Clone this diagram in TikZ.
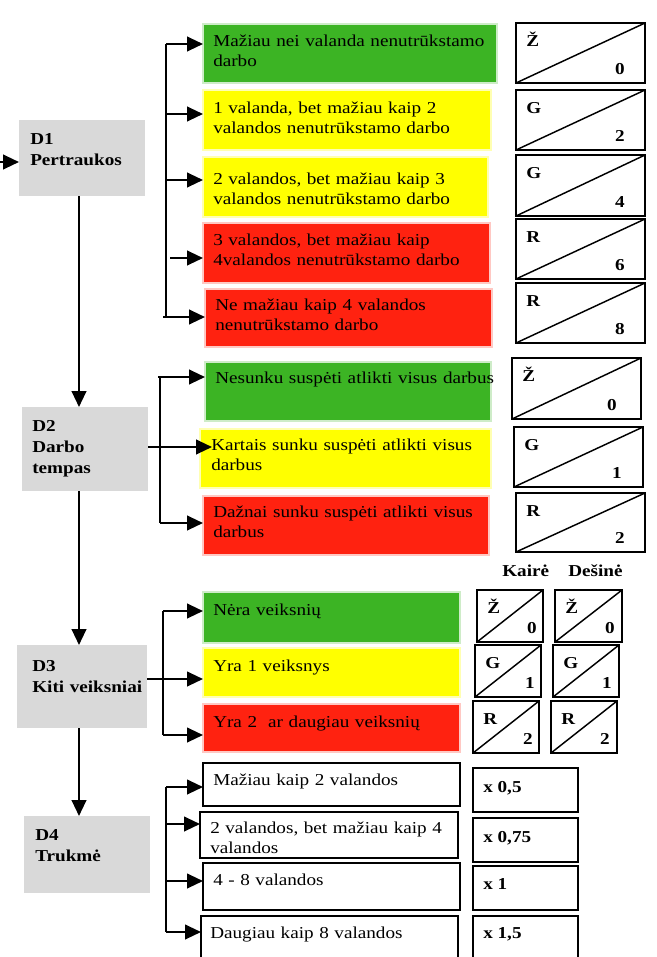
\documentclass[tikz,border=0pt]{standalone}
\usepackage{fontspec}
\setmainfont{Liberation Serif}[FakeStretch=1.15]
\usetikzlibrary{arrows.meta,calc}
\definecolor{dgray}{RGB}{217,217,217}
\definecolor{optgreen}{RGB}{60,180,36}
\definecolor{optyellow}{RGB}{255,255,0}
\definecolor{optred}{RGB}{255,34,16}
\tikzset{
  box/.style={anchor=north west, inner sep=0pt, outer sep=0pt},
  dbox/.style={box, fill=dgray},
  gbox/.style={box, fill=optgreen, draw=optgreen!25, line width=1pt},
  ybox/.style={box, fill=optyellow, draw=optyellow!30, line width=1pt},
  rbox/.style={box, fill=optred, draw=optred!25, line width=1pt},
  wbox/.style={box, draw=black, line width=1.5pt},
  cell/.style={box, draw=black, line width=1.5pt},
  txt/.style={anchor=base west, inner sep=0pt, text width=230pt, align=left, font=\fontsize{12.5}{15}\selectfont},
  dtxt/.style={txt, font=\fontsize{12.5}{16}\selectfont\bfseries},
  btxt/.style={anchor=base west, inner sep=0pt, font=\fontsize{12.5}{15}\selectfont\bfseries},
  arr/.style={-{Triangle[length=12pt,width=11pt]}, line width=1.6pt},
  bus/.style={line width=1.6pt}
}
\def\boxat[#1](#2)(#3,#4)(#5,#6){\node[#1, minimum width={(#5-#3)*0.75pt}, minimum height={(#6-#4)*0.75pt}] (#2) at (#3,#4) {};}
\def\scorecell(#1)(#2,#3)(#4,#5)#6#7#8{%
  \boxat[cell](#1)(#2,#3)(#4,#5)
  \draw[line width=1.1pt] (#1.south west) -- (#1.north east);
  \node[btxt] (#1-l) at ($(#1.north west)+(10,23.5)$) {#6};
  \node[btxt, anchor=base east] (#1-n) at ($(#1.south east)+(-#8,-9)$) {#7};}

\begin{document}
\begin{tikzpicture}[x=0.75pt, y=-0.75pt]
			%%%%% START %%%%%
			\useasboundingbox (0,0) rectangle (657,957);
			
			% D boxes
			\boxat[dbox](d1)(19,120)(145,196)
			\node[dtxt] (d1-t) at (30,144) {D1\\Pertraukos};
			\boxat[dbox](d2)(22,407)(148,491)
			\node[dtxt] (d2-t) at (32,431) {D2\\Darbo\\tempas};
			\boxat[dbox](d3)(17,645)(147,728)
			\node[dtxt] (d3-t) at (32,671) {D3\\Kiti veiksniai};
			\boxat[dbox](d4)(24,816)(150,893)
			\node[dtxt] (d4-t) at (35,840) {D4\\Trukmė};
			
			\coordinate (in) at (0,162);
			\draw[arr] (in) -- (in -| d1.west);
			\coordinate (spine) at (79,0);
			\draw[arr] (d1.south -| spine) -- (d2.north -| spine);
			\draw[arr] (d2.south -| spine) -- (d3.north -| spine);
			\draw[arr] (d3.south -| spine) -- (d4.north -| spine);
			
			% D1 Pertraukos
			\boxat[gbox](g1)(203,24)(497,83)
			\node[txt] (g1-t) at (213,46.7) {Mažiau nei valanda nenutrūkstamo\\darbo};
			\boxat[ybox](y1)(203,90)(491,150)
			\node[txt] (y1-t) at (213,113) {1 valanda, bet mažiau kaip 2\\valandos nenutrūkstamo darbo};
			\boxat[ybox](y2)(203,157)(488,217)
			\node[txt] (y2-t) at (213,184) {2 valandos, bet mažiau kaip 3\\valandos nenutrūkstamo darbo};
			\boxat[rbox](r1)(203,223)(490,283)
			\node[txt] (r1-t) at (213,245) {3 valandos, bet mažiau kaip\\4valandos nenutrūkstamo darbo};
			\boxat[rbox](r2)(205,289)(492,347)
			\node[txt] (r2-t) at (215,310) {Ne mažiau kaip 4 valandos\\nenutrūkstamo darbo};
			
			\scorecell(c1)(516,23)(645,83){Ž}{0}{20}
			\scorecell(c2)(516,90)(645,150){G}{2}{20}
			\scorecell(c3)(516,155)(645,216){G}{4}{20}
			\scorecell(c4)(516,219)(645,279){R}{6}{20}
			\scorecell(c5)(516,283)(645,343){R}{8}{20}
			
			\coordinate (b1a) at (166,44);
			\coordinate (b1b) at (166,114);
			\coordinate (b1c) at (166,180);
			\coordinate (b1d) at (170,258);
			\coordinate (b1e) at (163,317);
			\draw[bus] (b1a) -- (b1a |- b1e);
			\draw[arr] (b1a) -- (b1a -| g1.west);
			\draw[arr] (b1b) -- (b1b -| y1.west);
			\draw[arr] (b1c) -- (b1c -| y2.west);
			\draw[arr] (b1d) -- (b1d -| r1.west);
			\draw[arr] (b1e) -- (b1e -| r2.west);
			
			% D2 Darbo tempas
			\boxat[gbox](g2)(205,362)(491,421)
			\node[txt] (g2-t) at (215,383) {Nesunku suspėti atlikti visus darbus};
			\boxat[ybox](y3)(200,429)(491,488)
			\node[txt] (y3-t) at (211,450) {Kartais sunku suspėti atlikti visus\\darbus};
			\boxat[rbox](r3)(203,496)(489,555)
			\node[txt] (r3-t) at (213,517) {Dažnai sunku suspėti atlikti visus\\darbus};
			
			\scorecell(c6)(512,358)(641,419){Ž}{0}{24}
			\scorecell(c7)(514,427)(643,487){G}{1}{21}
			\scorecell(c8)(516,493)(645,552){R}{2}{20}
			
			\coordinate (b2a) at (158,377);
			\coordinate (b2b) at (148,447);
			\coordinate (b2c) at (160,523);
			\draw[bus] (b2c |- b2a) -- (b2c);
			\draw[arr] (b2a) -- (b2a -| g2.west);
			\draw[arr, shorten >=-9pt] (d2.east |- b2b) -- (b2b -| y3.west);
			\draw[arr] (b2c) -- (b2c -| r3.west);
			
			% D3 Kiti veiksniai
			\node[btxt] (kaire) at (502,576) {Kairė};
			\node[btxt] (desine) at (568,576) {Dešinė};
			
			\boxat[gbox](g3)(203,592)(460,643)
			\node[txt] (g3-t) at (213,615) {Nėra veiksnių};
			\boxat[ybox](y4)(203,648)(460,697)
			\node[txt] (y4-t) at (213,671) {Yra 1 veiksnys};
			\boxat[rbox](r4)(203,704)(460,752)
			\node[txt] (r4-t) at (213,727) {Yra 2\ \ ar daugiau veiksnių};
			
			\scorecell(k1)(477,590)(543,642){Ž}{0}{6}
			\scorecell(k2)(475,645)(541,697){G}{1}{6}
			\scorecell(k3)(473,701)(539,753){R}{2}{6}
			\scorecell(s1)(555,590)(622,642){Ž}{0}{7}
			\scorecell(s2)(553,645)(619,697){G}{1}{7}
			\scorecell(s3)(551,701)(617,753){R}{2}{7}
			
			\coordinate (b3a) at (163,611);
			\coordinate (b3b) at (147,679);
			\coordinate (b3c) at (163,735);
			\draw[bus] (b3a) -- (b3c);
			\draw[arr] (b3a) -- (b3a -| g3.west);
			\draw[arr] (d3.east |- b3b) -- (b3b -| y4.west);
			\draw[arr] (b3c) -- (b3c -| r4.west);
			
			% D4 Trukme
			\boxat[wbox](w1)(203,763)(460,806)
			\node[txt] (w1-t) at (213,785) {Mažiau kaip 2 valandos};
			\boxat[wbox](w2)(200,812)(458,858)
			\node[txt] (w2-t) at (210,833) {2 valandos, bet mažiau kaip 4\\valandos};
			\boxat[wbox](w3)(203,863)(460,910)
			\node[txt] (w3-t) at (213,885) {4 - 8 valandos};
			\boxat[wbox](w4)(201,916)(458,965)
			\node[txt] (w4-t) at (210,938) {Daugiau kaip 8 valandos};
			
			\boxat[wbox](f1)(473,768)(578,812)
			\node[btxt] (f1-t) at (483,792) {x 0,5};
			\boxat[wbox](f2)(473,818)(578,862)
			\node[btxt] (f2-t) at (483,842) {x 0,75};
			\boxat[wbox](f3)(473,866)(578,910)
			\node[btxt] (f3-t) at (483,889) {x 1};
			\boxat[wbox](f4)(473,916)(578,965)
			\node[btxt] (f4-t) at (483,938) {x 1,5};
			
			\coordinate (b4a) at (166,787);
			\coordinate (b4b) at (166,824);
			\coordinate (b4c) at (166,881);
			\coordinate (b4d) at (166,932);
			\draw[bus] (b4a) -- (b4d);
			\draw[arr] (b4a) -- (b4a -| w1.west);
			\draw[arr] (b4b) -- (b4b -| w2.west);
			\draw[arr] (b4c) -- (b4c -| w3.west);
			\draw[arr] (b4d) -- (b4d -| w4.west);
			
			%%%%% END %%%%%
\end{tikzpicture}
\end{document}
